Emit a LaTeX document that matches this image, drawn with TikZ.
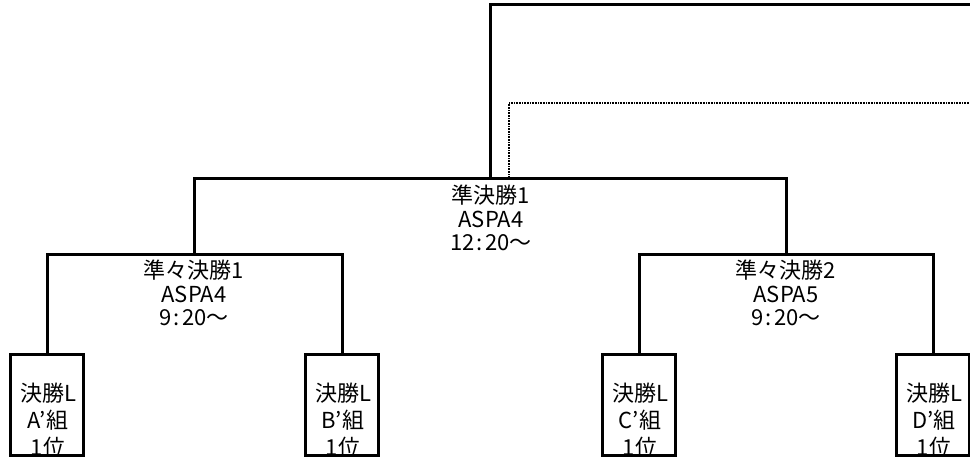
\documentclass[tikz,border=0pt]{standalone}
\usepackage{fontspec}
\setmainfont{Noto Sans CJK JP}
\newcommand{\tcolon}{\hspace{2.5pt}:\hspace{2.5pt}}
\begin{document}
\begin{tikzpicture}[x=1pt,y=-1pt,
  wire/.style={line width=3pt,line join=miter},
  dotwire/.style={line width=2pt,dash pattern=on 0.8pt off 0.8pt},
  teambox/.style={draw,line width=3pt,minimum width=73pt,minimum height=101pt,inner sep=0pt},
  matchtxt/.style={align=center,inner sep=0pt,font=\fontsize{22}{23.5}\selectfont},
  teamtxt/.style={align=center,inner sep=0pt,font=\fontsize{22}{27}\selectfont}]
\useasboundingbox (0,0) rectangle (970,459);
% boxes
\node[teambox] (bA) at (47,405) {};
\node[teambox] (bB) at (342,405) {};
\node[teambox] (bC) at (639,405) {};
\node[teambox] (bD) at (933,405) {};
\node[teamtxt] (tA) at (48,420) {決勝L\\A’組\\1位};
\node[teamtxt] (tB) at (343,420) {決勝L\\B’組\\1位};
\node[teamtxt] (tC) at (640,420) {決勝L\\C’組\\1位};
\node[teamtxt] (tD) at (934,420) {決勝L\\D’組\\1位};
% junctions
\coordinate (q1) at (194,254);
\coordinate (q2) at (786,254);
\coordinate (s1) at (490,178);
\coordinate (s1d) at (509,178);
\coordinate (topR) at (972,4);
\coordinate (dotR) at (972,103);
% match texts
\node[matchtxt] (m1) at (194,293) {準々決勝1\\ASPA4\\9\tcolon 20〜};
\node[matchtxt] (m2) at (786,293) {準々決勝2\\ASPA5\\9\tcolon 20〜};
\node[matchtxt] (m3) at (491,218) {準決勝1\\ASPA4\\12\tcolon 20〜};
% wires
\draw[wire] (bA.north) |- (q1) -| (bB.north);
\draw[wire] (bC.north) |- (q2) -| (bD.north);
\draw[wire] (q1) |- (s1) -| (q2);
\draw[wire] (s1) |- (topR);
\draw[dotwire] (s1d) |- (dotR);
\end{tikzpicture}
\end{document}
